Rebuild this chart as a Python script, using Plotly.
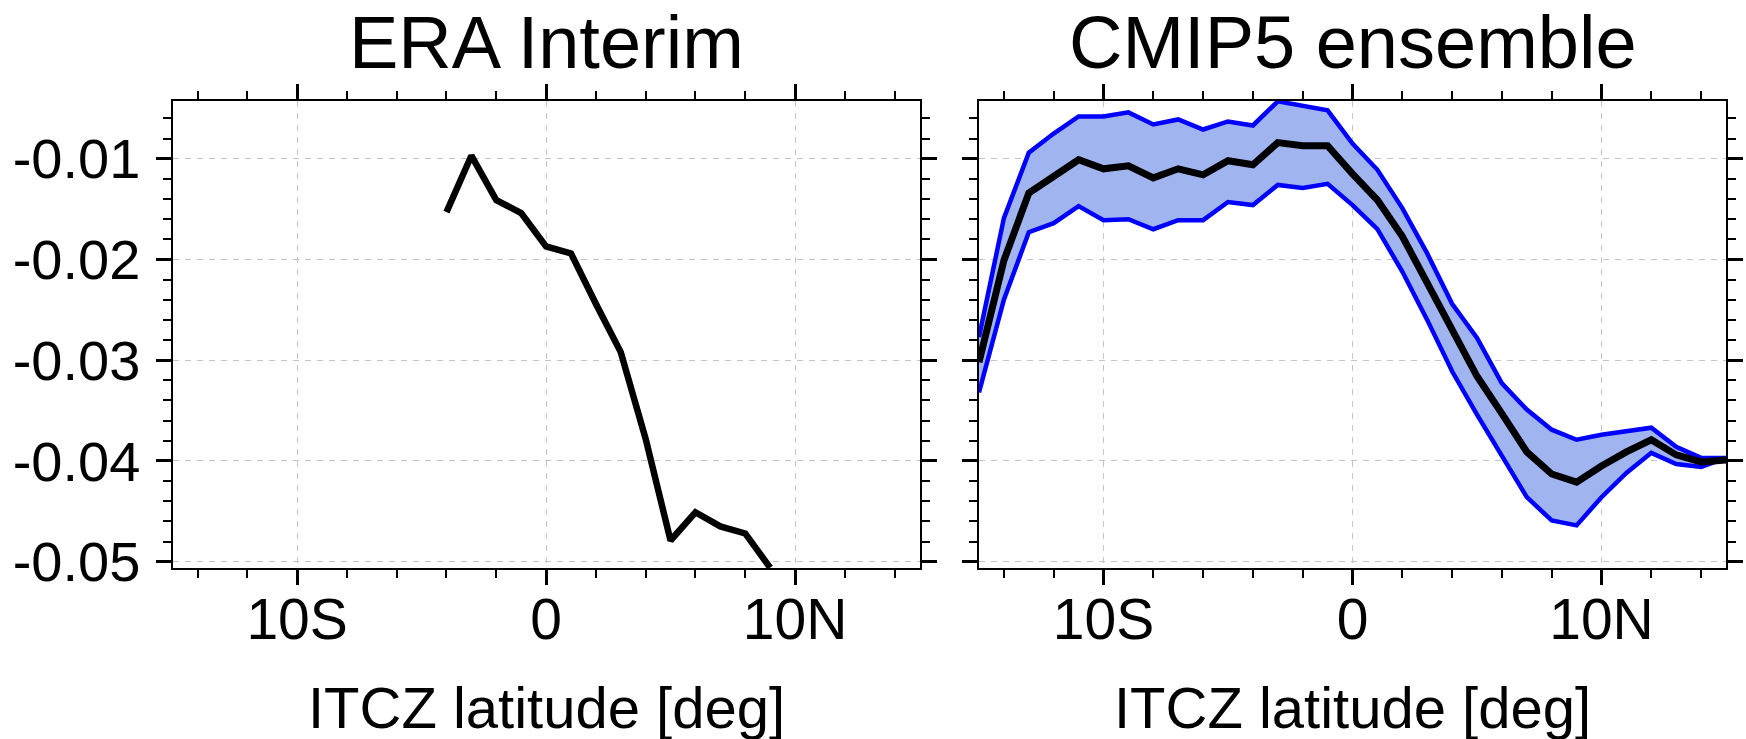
import plotly.graph_objects as go

# ---------------- data ----------------
era_lat = [-4, -3, -2, -1, 0, 1, 2, 3, 4, 5, 6, 7, 8, 9]
era_val = [-0.0153, -0.0097, -0.0141, -0.0154, -0.0187, -0.0194, -0.0244, -0.0292,
           -0.0378, -0.0479, -0.0451, -0.0465, -0.0472, -0.0506]

cmip_lat = list(range(-15, 16))
cmip_mean = [-0.0302, -0.0201, -0.0134, -0.0118, -0.0101, -0.0110, -0.0107, -0.0119,
             -0.0110, -0.0116, -0.0102, -0.0106, -0.0084, -0.0087, -0.0087, -0.0115,
             -0.0141, -0.0177, -0.0224, -0.0272, -0.0316, -0.0353, -0.0391, -0.0413,
             -0.0421, -0.0405, -0.0391, -0.0379, -0.0394, -0.0401, -0.0399]
cmip_upper = [-0.0277, -0.0159, -0.0094, -0.0075, -0.0058, -0.0058, -0.0054, -0.0066,
              -0.0061, -0.0071, -0.0063, -0.0067, -0.0043, -0.0047, -0.0052, -0.0085,
              -0.0111, -0.0149, -0.0194, -0.0244, -0.0278, -0.0323, -0.0349, -0.0369,
              -0.0379, -0.0374, -0.0371, -0.0367, -0.0386, -0.0397, -0.0397]
cmip_lower = [-0.0332, -0.0240, -0.0173, -0.0164, -0.0147, -0.0161, -0.0160, -0.0170,
              -0.0161, -0.0161, -0.0143, -0.0146, -0.0126, -0.0129, -0.0125, -0.0146,
              -0.0170, -0.0212, -0.0260, -0.0311, -0.0354, -0.0394, -0.0436, -0.0459,
              -0.0464, -0.0436, -0.0412, -0.0392, -0.0403, -0.0406, -0.0397]

titles = ["ERA Interim", "CMIP5 ensemble"]
x_tickvals = [-10, 0, 10]
x_ticktext = ["10S", "0", "10N"]
y_tickvals = [-0.01, -0.02, -0.03, -0.04, -0.05]
y_ticktext = ["-0.01", "-0.02", "-0.03", "-0.04", "-0.05"]
xlabel = "ITCZ latitude [deg]"

# ---------------- figure ----------------
W, H = 1746, 739
FONT = "Liberation Sans, Arial, Helvetica, sans-serif"


def px_x(p):
    return p / W


def px_y(p):
    return 1 - p / H


fig = go.Figure()

# left panel
fig.add_trace(go.Scatter(x=era_lat, y=era_val, mode="lines",
                         line=dict(color="black", width=6.5),
                         xaxis="x", yaxis="y", showlegend=False))

# right panel: fill band
fig.add_trace(go.Scatter(x=cmip_lat, y=cmip_upper, mode="lines",
                         line=dict(width=0), xaxis="x2", yaxis="y2",
                         showlegend=False, hoverinfo="skip"))
fig.add_trace(go.Scatter(x=cmip_lat, y=cmip_lower, mode="lines",
                         line=dict(width=0), fill="tonexty",
                         fillcolor="#a0b4f0", xaxis="x2", yaxis="y2",
                         showlegend=False, hoverinfo="skip"))
for arr in (cmip_upper, cmip_lower):
    fig.add_trace(go.Scatter(x=cmip_lat, y=arr, mode="lines",
                             line=dict(color="#0000ff", width=4.5),
                             xaxis="x2", yaxis="y2", showlegend=False))
fig.add_trace(go.Scatter(x=cmip_lat, y=cmip_mean, mode="lines",
                         line=dict(color="black", width=7),
                         xaxis="x2", yaxis="y2", showlegend=False))

left_dom = [px_x(172.6), px_x(919.5)]
right_dom = [px_x(979.0), px_x(1726.0)]
y_dom = [px_y(568.3), px_y(100.7)]
YR = [-0.05066, -0.00424]


def xaxis(dom, anchor):
    return dict(domain=dom, anchor=anchor, range=[-15, 15], automargin=False,
                tickmode="array", tickvals=x_tickvals, ticktext=x_ticktext,
                ticklabelstandoff=-15,
                ticks="outside", ticklen=15, tickwidth=2.5, tickcolor="black",
                showline=True, linecolor="black", linewidth=2.2, mirror="allticks",
                showgrid=True, gridcolor="#c4c4c4", gridwidth=1, griddash="6px,6px",
                zeroline=False,
                tickfont=dict(family=FONT, size=57, color="black"),
                minor=dict(ticks="outside", ticklen=8, tickwidth=1.5, tickcolor="black",
                           dtick=2, tick0=0, showgrid=False),
                fixedrange=True)


def yaxis(dom, anchor, labels):
    return dict(domain=dom, anchor=anchor, range=YR, automargin=False,
                tickmode="array", tickvals=y_tickvals, ticktext=y_ticktext,
                showticklabels=labels, ticklabelstandoff=4,
                ticks="outside", ticklen=15, tickwidth=2.5, tickcolor="black",
                showline=True, linecolor="black", linewidth=2.2, mirror="allticks",
                showgrid=True, gridcolor="#c4c4c4", gridwidth=1, griddash="6px,6px",
                zeroline=False,
                tickfont=dict(family=FONT, size=56, color="black"),
                minor=dict(ticks="outside", ticklen=8, tickwidth=1.5, tickcolor="black",
                           dtick=0.002, tick0=0, showgrid=False),
                fixedrange=True)


annotations = []
for dom, t in zip((left_dom, right_dom), titles):
    annotations.append(dict(text=t, x=(dom[0] + dom[1]) / 2, y=px_y(42.5),
                            xref="paper", yref="paper", xanchor="center", yanchor="middle",
                            showarrow=False, font=dict(family=FONT, size=74, color="black")))
    annotations.append(dict(text=xlabel, x=(dom[0] + dom[1]) / 2, y=px_y(707.5),
                            xref="paper", yref="paper", xanchor="center", yanchor="middle",
                            showarrow=False, font=dict(family=FONT, size=58, color="black")))

fig.update_layout(
    width=W, height=H,
    margin=dict(l=0, r=0, t=0, b=0),
    paper_bgcolor="white", plot_bgcolor="white",
    font=dict(family=FONT, color="black"),
    xaxis=xaxis(left_dom, "y"),
    yaxis=yaxis(y_dom, "x", True),
    xaxis2=xaxis(right_dom, "y2"),
    yaxis2=yaxis(y_dom, "x2", False),
    annotations=annotations,
)

# remove the default 8px page margin so the figure fills the window exactly
fig.write_html("out.html",
               config={"displayModeBar": False},
               post_script="document.body.style.margin='0px';"
                           "document.body.style.overflow='hidden';")
